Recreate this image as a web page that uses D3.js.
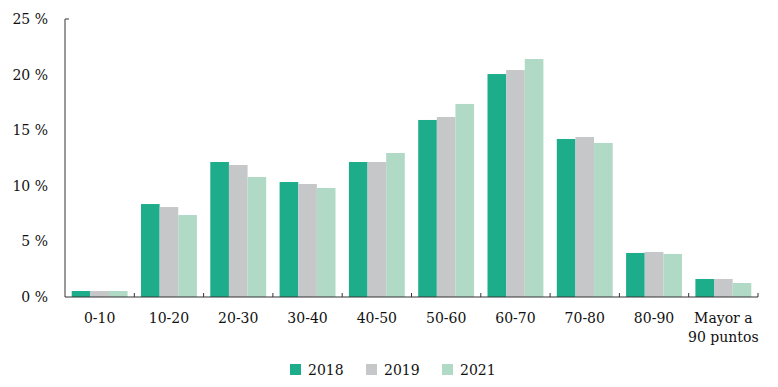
<!DOCTYPE html>
<html><head><meta charset="utf-8">
<script src="https://cdn.jsdelivr.net/npm/d3@7"></script>
<style>body{margin:0;background:#fff}text{font-family:"DejaVu Serif",serif;fill:#111}</style>
</head><body><svg id="c" width="778" height="387"></svg>
<script>
const categories=["0-10","10-20","20-30","30-40","40-50","50-60","60-70","70-80","80-90","Mayor a|90 puntos"];
const seriesNames=["2018","2019","2021"];
const v2018=[0.54,8.36,12.14,10.34,12.14,15.92,20.05,14.21,3.96,1.62];
const v2019=[0.54,8.09,11.87,10.16,12.14,16.19,20.41,14.39,4.05,1.62];
const v2021=[0.54,7.37,10.79,9.8,12.95,17.36,21.4,13.85,3.87,1.26];
const yTicks=[0,5,10,15,20,25];
const colors=["#1dad8a","#c6c7c9","#b0d9c6"];
const values=[v2018,v2019,v2021];

const svg=d3.select("#c");
const L=65,R=758,T=19,B=297;
const x=d3.scaleBand().domain(categories).range([L,R]).paddingInner(0).paddingOuter(0);
const x1=d3.scaleBand().domain(seriesNames).range([0,x.bandwidth()]).paddingOuter(0.36).paddingInner(0);
const y=d3.scaleLinear().domain([0,25]).range([B,T]);

// bars
seriesNames.forEach((s,si)=>{
  svg.append("g").selectAll("rect").data(categories).join("rect")
    .attr("x",c=>x(c)+x1(s)).attr("width",x1.bandwidth())
    .attr("y",(c,i)=>y(values[si][i])).attr("height",(c,i)=>B-y(values[si][i]))
    .attr("fill",colors[si]);
});

// y axis
const ya=svg.append("g").attr("transform",`translate(${L},0)`)
  .call(d3.axisLeft(y).tickValues(yTicks).tickSize(0).tickPadding(17).tickFormat(d=>d+" %"));
ya.select(".domain").remove();
ya.selectAll("text").attr("font-size",14).attr("font-family","DejaVu Serif").attr("fill","#111");
svg.append("line").attr("x1",L).attr("x2",L).attr("y1",y(25)).attr("y2",B).attr("stroke","#555").attr("stroke-width",1.2);
svg.append("line").attr("x1",L).attr("x2",L+4).attr("y1",y(25)).attr("y2",y(25)).attr("stroke","#555").attr("stroke-width",1.2);

// x axis
svg.append("line").attr("x1",L).attr("x2",R).attr("y1",B).attr("y2",B).attr("stroke","#333").attr("stroke-width",1.2);
const bounds=categories.slice(1).map(c=>x(c)).concat([R]);
svg.append("g").selectAll("line").data(bounds).join("line")
  .attr("x1",d=>d).attr("x2",d=>d).attr("y1",B).attr("y2",B-4).attr("stroke","#333").attr("stroke-width",1);
const xl=svg.append("g").selectAll("text").data(categories).join("text")
  .attr("x",c=>x(c)+x.bandwidth()/2).attr("y",323).attr("text-anchor","middle").attr("font-size",14);
xl.each(function(c){
  const parts=c.split("|");
  d3.select(this).selectAll("tspan").data(parts).join("tspan")
    .attr("x",x(c)+x.bandwidth()/2).attr("dy",(d,i)=>i?19:0).text(d=>d);
});

// legend
const lg=svg.append("g").selectAll("g").data(seriesNames).join("g")
  .attr("transform",(d,i)=>`translate(${290+i*76},364)`);
lg.append("rect").attr("width",11).attr("height",11).attr("fill",(d,i)=>colors[i]);
lg.append("text").attr("x",18).attr("y",10.5).attr("font-size",14).text(d=>d);
</script></body></html>
